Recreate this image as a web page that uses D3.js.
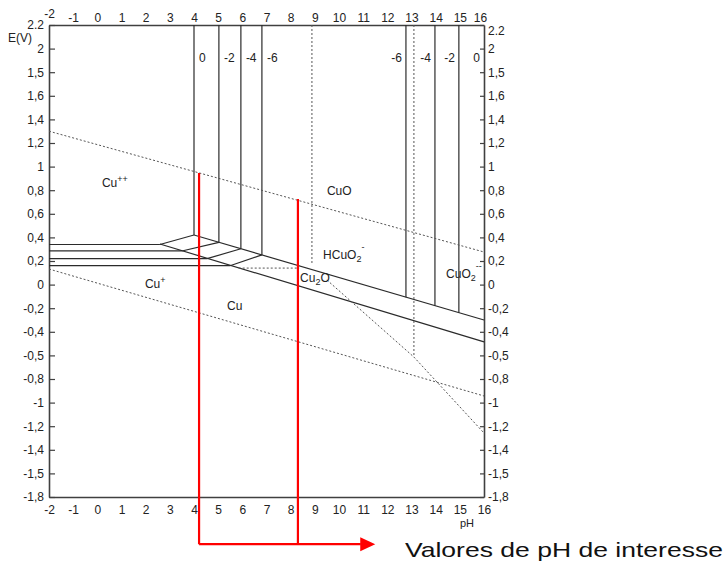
<!DOCTYPE html>
<html>
<head>
<meta charset="utf-8">
<script src="https://cdn.jsdelivr.net/npm/d3@7"></script>
<style>
  html, body { margin: 0; padding: 0; background: #fff; }
  svg { display: block; font-family: "Liberation Sans", Arial, sans-serif; }
</style>
</head>
<body>
<svg id="chart" width="727" height="564"></svg>
<script>
// ---------- data ----------
const phTicks = [-2, -1, 0, 1, 2, 3, 4, 5, 6, 7, 8, 9, 10, 11, 12, 13, 14, 15, 16];
const eTicks = [2.2, 2.0, 1.8, 1.6, 1.4, 1.2, 1.0, 0.8, 0.6, 0.4, 0.2, 0, -0.2, -0.4, -0.6, -0.8, -1.0, -1.2, -1.4, -1.6, -1.8];
const eTickLabels = ["2.2", "2", "1,5", "1,6", "1,4", "1,2", "1", "0,8", "0,6", "0,4", "0,2", "0", "-0,2", "-0,4", "-0,5", "-0,8", "-1", "-1,2", "-1,4", "-1,5", "-1,8"];

const concLabels = ["0", "-2", "-4", "-6"];
// Cu++ / CuO vertical boundaries (left group) for log c = 0, -2, -4, -6
const cuOLeftPH = [4.0, 5.03, 5.94, 6.81];
// CuO / CuO2-- vertical boundaries (right group) for log c = 0, -2, -4, -6
const cuORightPH = [16.0, 14.96, 13.97, 12.77];
// Cu++ / Cu horizontal boundaries
const cuCuE = [0.34, 0.285, 0.22, 0.16];
const cuCuEndPH = [2.59, 3.50, 4.54, 5.49];

// CuO / Cu2O (line A) and Cu2O / Cu (line B)
const lineA = [[4.0, 0.42], [16, -0.30]];
const lineB = [[2.59, 0.344], [16, -0.486]];
// water stability lines
const waterUpper = [[-2, 1.30], [16, 0.276]];
const waterLower = [[-2, 0.132], [16, -0.944]];
// dotted boundaries
const dottedPH9 = [[8.88, 2.2], [8.88, 0.166]];
const dottedPH13 = [[13.1, 2.2], [13.1, -0.614]];
const dottedHoriz = [[5.85, 0.14], [8.35, 0.14]];
const dottedDiag = [[9.5, 0.039], [13.1, -0.614], [16, -1.258]];

// highlighted pH values of interest
const interestPH = [4.21, 8.30];
const interestTopE = [0.946, 0.725];
const arrowBottomE = -2.2;
const arrowTipPH = 11.5;

// ---------- layout ----------
const svg = d3.select("#chart");
const x = d3.scaleLinear().domain([-2, 16]).range([49, 484]);
const y = d3.scaleLinear().domain([-1.8, 2.2]).range([497, 25]);

const INK = "#2b2b2b";
const FRAME = "#404040";

function interp(line, ph) {
  const [[x0, y0], [x1, y1]] = line;
  return y0 + (y1 - y0) * (ph - x0) / (x1 - x0);
}
const path = d3.line().x(d => x(d[0])).y(d => y(d[1]));

// ---------- axes ----------
const fmt = d => eTickLabels[eTicks.indexOf(d)];
const phFmt = d => String(d);

const gL = svg.append("g").attr("transform", `translate(${x(-2)},0)`)
  .call(d3.axisLeft(y).tickValues(eTicks).tickFormat(fmt).tickSizeInner(-6).tickSizeOuter(0).tickPadding(5));
const gR = svg.append("g").attr("transform", `translate(${x(16)},0)`)
  .call(d3.axisRight(y).tickValues(eTicks).tickFormat(fmt).tickSizeInner(-4).tickSizeOuter(0).tickPadding(4));
const gT = svg.append("g").attr("transform", `translate(0,${y(2.2)})`)
  .call(d3.axisTop(x).tickValues(phTicks).tickFormat(phFmt).tickSize(0).tickPadding(3));
const gB = svg.append("g").attr("transform", `translate(0,${y(-1.8)})`)
  .call(d3.axisBottom(x).tickValues(phTicks).tickFormat(phFmt).tickSize(0).tickPadding(8));

[gL, gR, gT, gB].forEach(g => {
  g.select(".domain").attr("stroke", FRAME).attr("stroke-width", 1.6);
  g.selectAll(".tick line").attr("stroke", FRAME).attr("stroke-width", 1.2);
  g.selectAll(".tick text").attr("fill", "#222").style("font-size", "12px")
    .style("font-family", "'Liberation Sans', Arial, sans-serif");
});
// corner labels nudged as in the scanned original
gT.selectAll(".tick").filter(d => d === -2).select("text").attr("dy", "-0.35em");
gT.selectAll(".tick").filter(d => d === 16).select("text").attr("dx", "-4");
gR.selectAll(".tick").filter(d => d === 2.2).select("text").attr("dy", "0.75em");

svg.append("text").attr("x", 8).attr("y", 42).attr("fill", "#222")
  .style("font-size", "12px").text("E(V)");
svg.append("text").attr("x", 460).attr("y", 527).attr("fill", "#222")
  .style("font-size", "11px").text("pH");

// ---------- diagram lines ----------
const solid = svg.append("g").attr("fill", "none").attr("stroke", INK).attr("stroke-width", 1.2);
const dotted = svg.append("g").attr("fill", "none").attr("stroke", "#555").attr("stroke-width", 1).attr("stroke-dasharray", "2,2");

dotted.append("path").attr("d", path(waterUpper));
dotted.append("path").attr("d", path(waterLower));
dotted.append("path").attr("d", path(dottedPH9));
dotted.append("path").attr("d", path(dottedPH13));
dotted.append("path").attr("d", path(dottedHoriz));
dotted.append("path").attr("d", path(dottedDiag));

solid.append("path").attr("d", path(lineA));
solid.append("path").attr("d", path(lineB));

cuOLeftPH.forEach((ph, i) => {
  const eA = interp(lineA, ph);
  solid.append("path").attr("d", path([[-2, cuCuE[i]], [cuCuEndPH[i], cuCuE[i]]]));
  solid.append("path").attr("d", path([[cuCuEndPH[i], cuCuE[i]], [ph, eA]]));
  solid.append("path").attr("d", path([[ph, 2.2], [ph, eA]]));
  svg.append("text").attr("x", x(ph) + 5).attr("y", y(1.886)).attr("fill", "#222")
    .style("font-size", "12px").text(concLabels[i]);
});
cuORightPH.forEach((ph, i) => {
  const eA = interp(lineA, ph);
  if (ph < 16) solid.append("path").attr("d", path([[ph, 2.2], [ph, eA]]));
  svg.append("text").attr("x", x(ph) - 4).attr("y", y(1.886)).attr("text-anchor", "end")
    .attr("fill", "#222").style("font-size", "12px").text(concLabels[i]);
});

// ---------- region labels ----------
const regionLabels = [
  { parts: [["Cu", 0], ["++", 1]], ph: 0.19, e: 0.827 },
  { parts: [["Cu", 0], ["+", 1]], ph: 1.97, e: -0.029 },
  { parts: [["Cu", 0]], ph: 5.37, e: -0.215 },
  { parts: [["CuO", 0]], ph: 9.50, e: 0.759 },
  { parts: [["HCuO", 0], ["2", -1], ["-", 2]], ph: 9.34, e: 0.217 },
  { parts: [["Cu", 0], ["2", -1], ["O", 3]], ph: 8.39, e: 0.022 },
  { parts: [["CuO", 0], ["2", -1], ["--", 2]], ph: 14.43, e: 0.056 }
];
regionLabels.forEach(l => {
  const t = svg.append("text").attr("x", x(l.ph)).attr("y", y(l.e)).attr("fill", "#222")
    .style("font-size", "12px");
  let shift = 0;
  l.parts.forEach(([s, kind]) => {
    const ts = t.append("tspan").text(s);
    if (kind === 1) { ts.attr("dy", -5 - shift).style("font-size", "9px"); shift = -5; }
    else if (kind === -1) { ts.attr("dy", 3 - shift).style("font-size", "9px"); shift = 3; }
    else if (kind === 2) { ts.attr("dy", -9 - shift).style("font-size", "9px"); shift = -9; }
    else if (kind === 3) { ts.attr("dy", -shift); shift = 0; }
  });
});

// ---------- red annotation ----------
const red = svg.append("g").attr("stroke", "#f00").attr("stroke-width", 2.2).attr("fill", "none");
interestPH.forEach((ph, i) => {
  red.append("path").attr("d", path([[ph, interestTopE[i]], [ph, arrowBottomE]]));
});
red.append("path").attr("d", path([[interestPH[0], arrowBottomE], [arrowTipPH - 0.6, arrowBottomE]]));
const tipX = x(arrowTipPH), tipY = y(arrowBottomE);
svg.append("path").attr("fill", "#f00")
  .attr("d", `M${tipX},${tipY} L${tipX - 15},${tipY - 7} L${tipX - 15},${tipY + 7} Z`);

svg.append("text").attr("x", x(12.73)).attr("y", 557).attr("fill", "#111")
  .style("font-size", "21px").attr("textLength", 318).attr("lengthAdjust", "spacingAndGlyphs")
  .text("Valores de pH de interesse");
</script>
</body>
</html>
